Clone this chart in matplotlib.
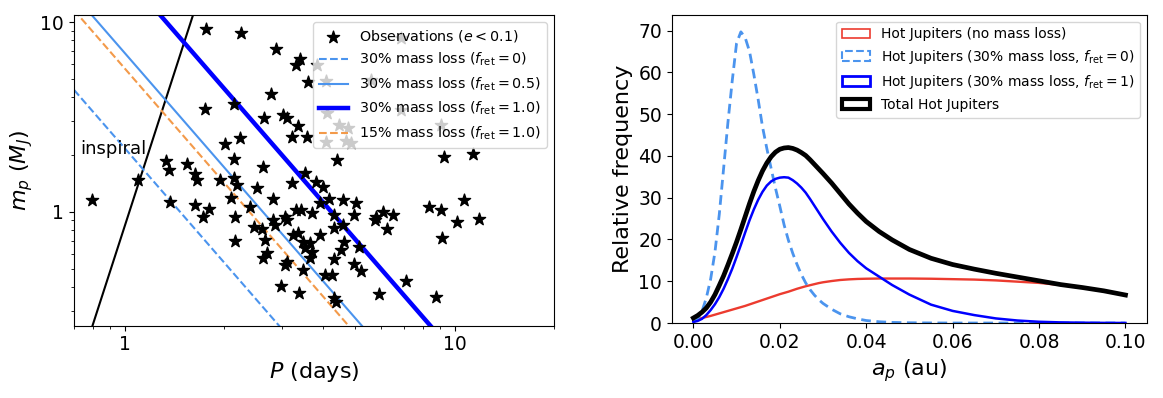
import numpy as np
import matplotlib
matplotlib.use("Agg")
import matplotlib.pyplot as plt
from matplotlib.patches import Patch
from matplotlib.ticker import FuncFormatter, NullFormatter

# ---- left panel: observed hot Jupiters (e < 0.1) ----
P_obs = [0.796, 1.094, 1.327, 1.363, 1.368, 1.546, 1.629, 1.649, 1.633, 1.747,
         1.765, 1.797, 1.725, 1.947, 2.017, 2.096, 2.147, 2.147, 2.140, 2.181,
         2.232, 2.247, 2.154, 2.154, 2.402, 2.461, 2.513, 2.621, 2.640, 2.778,
         2.811, 2.871, 2.597, 2.662, 2.695, 2.629, 2.821, 2.851, 3.057, 3.100,
         3.015, 3.100, 3.210, 3.210, 3.093, 3.057, 2.972, 3.244, 3.355, 3.371,
         3.359, 3.301, 3.407, 3.603, 3.565, 3.527, 3.313, 3.420, 3.692, 3.474,
         3.640, 3.516, 3.684, 3.640, 3.474, 3.797, 3.815, 3.918, 3.896, 3.996,
         4.144, 4.086, 4.086, 4.101, 4.044, 4.237, 4.321, 4.321, 4.306, 4.366,
         4.412, 4.449, 4.601, 4.617, 4.521, 4.667, 4.833, 4.739, 4.935, 5.005,
         4.935, 5.183, 5.111, 5.577, 5.715, 5.787, 5.898, 6.066, 6.216, 6.483,
         6.879, 6.879, 7.099, 8.337, 8.786, 9.07, 9.07, 9.29, 9.17, 10.14,
         10.69, 11.38, 11.87, 4.306, 4.596]
m_obs = [1.153, 1.470, 1.853, 1.660, 1.129, 1.779, 1.581, 1.470, 1.085, 3.473,
         9.22, 1.033, 0.941, 1.470, 2.270, 1.177, 3.681, 1.890, 1.497, 1.384,
         2.449, 8.78, 0.932, 0.703, 1.052, 0.830, 1.329, 1.722, 3.112, 4.182,
         1.167, 7.23, 0.810, 0.709, 0.603, 0.568, 0.904, 0.846, 0.938, 0.899,
         3.240, 3.124, 1.423, 2.465, 0.543, 0.520, 0.405, 0.749, 0.769, 0.372,
         2.818, 5.95, 6.36, 4.84, 2.480, 1.601, 1.021, 1.021, 0.981, 0.694,
         0.679, 0.641, 0.615, 0.566, 0.492, 1.440, 5.90, 0.753, 1.107, 1.355,
         1.167, 2.342, 4.858, 3.320, 0.463, 0.463, 0.817, 0.561, 0.349, 0.335,
         1.863, 2.870, 1.153, 0.694, 0.624, 2.353, 2.291, 2.756, 0.961, 1.107,
         0.530, 0.488, 0.653, 4.959, 0.904, 0.941, 0.368, 0.990, 0.807, 0.961,
         8.23, 3.443, 0.431, 1.063, 0.353, 2.870, 1.021, 1.932, 0.722, 0.882,
         1.153, 2.017, 0.909, 0.961, 0.851]

# straight lines in log-log space, given by their two end points
inspiral_P = [0.78, 1.65]
inspiral_m = [0.223, 12.5]
loss30_f0_P = [0.70, 3.0]
loss30_f0_m = [4.39, 0.239]
loss30_f05_P = [0.70, 5.5]
loss30_f05_m = [13.96, 0.226]
loss30_f1_P = [1.20, 9.0]
loss30_f1_m = [12.36, 0.220]
loss15_f1_P = [0.70, 5.0]
loss15_f1_m = [11.57, 0.227]

# ---- right panel: distributions of semi-major axis ----
a_grid = [0, .001, .002, .003, .004, .005, .006, .007, .008, .009,
          .010, .011, .012, .013, .014, .015, .016, .017, .018, .019,
          .020, .021, .022, .023, .024, .025, .026, .027, .028, .029, .030,
          .032, .034, .036, .038, .040, .043, .046, .050, .055,
          .060, .065, .070, .075, .080, .085, .090, .095, .100]
hj_none = [0.6, 0.9, 1.2, 1.45, 1.7, 2.0, 2.3, 2.6, 2.9, 3.2,
           3.5, 3.8, 4.1, 4.45, 4.8, 5.15, 5.5, 5.85, 6.2, 6.55,
           6.9, 7.2, 7.5, 7.85, 8.2, 8.5, 8.8, 9.05, 9.3, 9.55, 9.75,
           10.05, 10.3, 10.45, 10.55, 10.6, 10.65, 10.65, 10.65, 10.6,
           10.5, 10.4, 10.2, 9.9, 9.6, 9.1, 8.4, 7.6, 6.7]
hj_f0 = [0.3, 1.0, 2.8, 6.0, 10.5, 17.0, 26.0, 37.0, 48.0, 58.0,
         67.0, 69.7, 68.3, 65.0, 59.5, 53.5, 47.0, 41.8, 37.0, 32.3,
         28.0, 23.5, 19.8, 16.7, 14.0, 11.6, 9.6, 8.0, 6.7, 5.6, 4.7,
         3.3, 2.2, 1.5, 1.0, 0.6, 0.3, 0.15, 0.06, 0.02,
         0, 0, 0, 0, 0, 0, 0, 0, 0]
hj_f1 = [0.25, 0.5, 1.0, 1.9, 3.1, 4.5, 6.2, 8.2, 10.5, 13.0,
         15.8, 18.7, 21.7, 24.6, 27.2, 29.5, 31.4, 32.9, 33.9, 34.5,
         34.8, 34.9, 34.8, 34.2, 33.4, 32.4, 31.2, 29.7, 28.1, 26.5, 24.9,
         21.9, 19.2, 16.8, 14.8, 13.1, 11.1, 9.1, 6.8, 4.4,
         2.9, 1.9, 1.1, 0.6, 0.3, 0.15, 0.08, 0.03, 0.01]
hj_total = [1.2, 1.8, 2.6, 3.6, 5.0, 6.8, 9.0, 11.3, 13.9, 16.6,
            19.4, 22.4, 25.5, 28.6, 31.5, 34.1, 36.4, 38.3, 39.8, 40.9,
            41.6, 41.9, 42.0, 41.8, 41.4, 40.8, 40.1, 39.1, 38.0, 36.9, 35.8,
            33.5, 31.0, 28.5, 26.3, 24.3, 21.9, 19.9, 17.6, 15.5,
            14.0, 12.9, 11.9, 11.0, 10.1, 9.2, 8.5, 7.7, 6.7]

light_blue = "#4b94ee"
orange = "#f39a4a"
red = "#ec3b2f"

fig = plt.figure(figsize=(11.63, 3.98), dpi=100)
ax1 = fig.add_axes([0.0636, 0.1817, 0.4126, 0.7807])
ax2 = fig.add_axes([0.5776, 0.1884, 0.4087, 0.7746])

# left panel
ax1.scatter(P_obs, m_obs, marker="*", s=85, color="k", zorder=3,
            label=r"Observations ($e<0.1$)")
ax1.plot(inspiral_P, inspiral_m, color="k", lw=1.5)
ax1.plot(loss30_f0_P, loss30_f0_m, ls="--", color=light_blue, lw=1.5,
         label=r"30% mass loss ($f_{\rm ret}=0$)")
ax1.plot(loss30_f05_P, loss30_f05_m, color=light_blue, lw=1.5,
         label=r"30% mass loss ($f_{\rm ret}=0.5$)")
ax1.plot(loss30_f1_P, loss30_f1_m, color="blue", lw=3.2,
         label=r"30% mass loss ($f_{\rm ret}=1.0$)")
ax1.plot(loss15_f1_P, loss15_f1_m, ls="--", color=orange, lw=1.5,
         label=r"15% mass loss ($f_{\rm ret}=1.0$)")
ax1.text(0.73, 2.15, "inspiral", fontsize=13, va="center")
ax1.set_xscale("log")
ax1.set_yscale("log")
ax1.set_xlim(0.7, 20)
ax1.set_ylim(0.25, 10.9)
plain = FuncFormatter(lambda v, _: f"{v:g}")
for axis in (ax1.xaxis, ax1.yaxis):
    axis.set_major_formatter(plain)
    axis.set_minor_formatter(NullFormatter())
ax1.set_xlabel(r"$P$ (days)", fontsize=16)
ax1.set_ylabel(r"$m_p$ ($M_J$)", fontsize=16)
ax1.tick_params(labelsize=13.5)
ax1.legend(loc="upper right", fontsize=10.3)

# right panel
ax2.plot(a_grid, hj_none, color=red, lw=1.7)
ax2.plot(a_grid, hj_f0, color=light_blue, lw=2.0, ls=(0, (3.5, 2)))
ax2.plot(a_grid, hj_f1, color="blue", lw=1.8)
ax2.plot(a_grid, hj_total, color="k", lw=3.4)
handles = [
    Patch(facecolor="none", edgecolor=red, lw=1.2, label="Hot Jupiters (no mass loss)"),
    Patch(facecolor="none", edgecolor=light_blue, lw=1.5, ls="--",
          label=r"Hot Jupiters (30% mass loss, $f_{\rm ret}=0$)"),
    Patch(facecolor="none", edgecolor="blue", lw=2.0,
          label=r"Hot Jupiters (30% mass loss, $f_{\rm ret}=1$)"),
    Patch(facecolor="none", edgecolor="k", lw=3.0, label="Total Hot Jupiters"),
]
ax2.legend(handles=handles, loc="upper right", fontsize=10)
ax2.set_xlim(-0.005, 0.105)
ax2.set_ylim(0, 73.8)
ax2.set_xticks([0, 0.02, 0.04, 0.06, 0.08, 0.10])
ax2.set_xlabel(r"$a_p$ (au)", fontsize=16)
ax2.set_ylabel("Relative frequency", fontsize=16)
ax2.tick_params(labelsize=13.5)

fig.savefig("out.png", dpi=100)
